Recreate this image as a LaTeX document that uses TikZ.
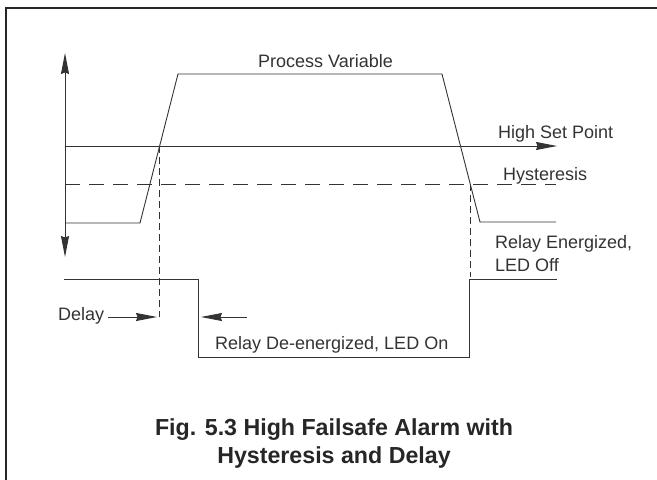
\documentclass[tikz,border=0pt]{standalone}
\usepackage{fontspec}
\setmainfont{Liberation Sans}
\usetikzlibrary{arrows.meta}

\begin{document}
\begin{tikzpicture}[x=1pt, y=-1pt,
  trace/.style={draw=black!80, line width=0.9pt},
  level/.style={trace, dash pattern=on 15pt off 9pt},
  marker/.style={trace, dash pattern=on 7pt off 4pt},
  tip/.style={-{Stealth[length=21pt, width=8pt, inset=1.5pt]}},
  lbl/.style={anchor=base west, inner sep=0pt, font=\fontsize{18}{21}\selectfont, text=black!80},
  captext/.style={anchor=base, inner sep=0pt, font=\fontsize{23.2}{27}\selectfont\bfseries, text=black!85}]
  \useasboundingbox (0,0) rectangle (657,480);
  % frame, cut off at right and bottom
  \draw[black!85, line width=1.4pt] (6,480) -- (6,8) -- (657,8);

  % key points
  \coordinate (ax-top) at (65,53);
  \coordinate (ax-bot) at (65,257);
  \coordinate (on-pt)  at (159,146);
  \coordinate (off-pt) at (470,184);

  % axis
  \draw[trace, {Stealth[length=21pt, width=8pt, inset=1.5pt]}-{Stealth[length=21pt, width=8pt, inset=1.5pt]}] (ax-top) -- (ax-bot);

  % set point and hysteresis levels
  \draw[trace, tip] (65,146) -- (557,146);
  \draw[level] (65,184) -- (556,184);

  % process variable
  \draw[trace] (65,223) -- (140,223) -- (178,74) -- (442,74) -- (480,222) -- (556,222);

  % relay state
  \draw[trace] (64,279) -- (198,279) -- (198,357) -- (469,357) -- (469,279) -- (557,279);

  % switching markers
  \draw[marker] (on-pt) -- (159,317);
  \draw[marker] (off-pt) -- (470,277);

  % labels
  \node[lbl] (pv)    at (258,67)  {Process Variable};
  \node[lbl] (hsp)   at (498,138) {High Set Point};
  \node[lbl] (hys)   at (503,180) {Hysteresis};
  \node[lbl] (ren)   at (495,248) {Relay Energized,};
  \node[lbl] (led)   at (495,271) {LED Off};
  \node[lbl] (delay) at (58,320)  {Delay};
  \node[lbl] (rden)  at (215,349) {Relay De-energized, LED On};

  % delay arrows
  \coordinate (dl-end) at (157,317);
  \coordinate (dr-tail) at (247,317);
  \coordinate (dr-end) at (201,317);
  \draw[trace, tip] (delay.east |- dl-end) ++(4,0) -- (dl-end);
  \draw[trace, tip] (dr-tail) -- (dr-end);

  % caption
  \node[captext] (cap1) at (334,435) {Fig. 5.3 High Failsafe Alarm with};
  \node[captext] (cap2) at (334,463) {Hysteresis and Delay};
\end{tikzpicture}
\end{document}
